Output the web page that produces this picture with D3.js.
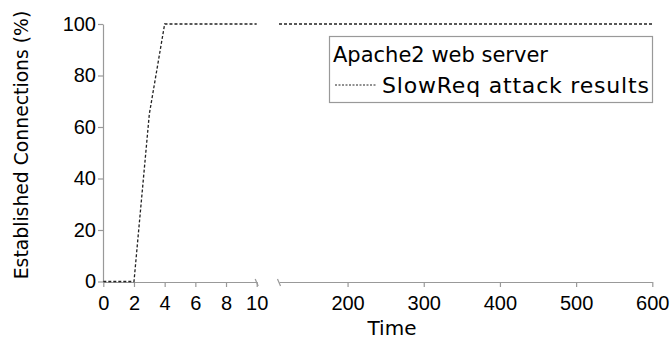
<!DOCTYPE html>
<html>
<head>
<meta charset="utf-8">
<script src="https://cdn.jsdelivr.net/npm/d3@7"></script>
<style>
  body { margin: 0; background: #fff; }
  svg { font-family: "DejaVu Sans", sans-serif; }
  .axis path, .axis line { stroke: #999; stroke-width: 1.2; }
  .axis text { fill: #000; font-size: 20px; }
</style>
</head>
<body>
<div id="chart"></div>
<script>
// left part of the broken time axis (0..10) and right part (~110..600)
const timeLeft = [0, 2, 3, 4, 10];
const connLeft = [0, 0, 65, 100, 100];
const timeRight = [110, 600];
const connRight = [100, 100];
const yTicks = [0, 20, 40, 60, 80, 100];
const xTicksLeft = [0, 2, 4, 6, 8, 10];
const xTicksRight = [200, 300, 400, 500, 600];

const width = 671, height = 339;

const svg = d3.select("#chart").append("svg")
  .attr("width", width)
  .attr("height", height);

const y = d3.scaleLinear().domain([0, 100]).range([281.5, 24]);
const xL = d3.scaleLinear().domain([0, 10]).range([103.3, 256.7]);
const xR = d3.scaleLinear().domain([110, 600]).range([279, 652.3]);

// y axis
svg.append("g")
  .attr("class", "axis")
  .attr("transform", "translate(103,0)")
  .call(d3.axisLeft(y).tickValues(yTicks).tickSize(5).tickSizeOuter(0).tickPadding(2));

// x axis, left segment
svg.append("g")
  .attr("class", "axis")
  .attr("transform", "translate(0,282)")
  .call(d3.axisBottom(xL).tickValues(xTicksLeft).tickSize(5).tickSizeOuter(0).tickPadding(9));

// x axis, right segment
svg.append("g")
  .attr("class", "axis")
  .attr("transform", "translate(0,282)")
  .call(d3.axisBottom(xR).tickValues(xTicksRight).tickSize(5).tickSizeOuter(0).tickPadding(9));

// break marks
[xL(10), xR(110)].forEach(bx => {
  svg.append("line")
    .attr("x1", bx - 1.5).attr("y1", 279)
    .attr("x2", bx + 1.5).attr("y2", 286)
    .attr("stroke", "#999").attr("stroke-width", 1.2);
});

// data lines
const lineL = d3.line().x((d, i) => xL(timeLeft[i])).y(d => y(d));
const lineR = d3.line().x((d, i) => xR(timeRight[i])).y(d => y(d));

svg.append("path")
  .attr("d", lineL(connLeft))
  .attr("fill", "none")
  .attr("stroke", "#222")
  .attr("stroke-width", 1.3)
  .attr("stroke-dasharray", "3,2");

svg.append("path")
  .attr("d", lineR(connRight))
  .attr("fill", "none")
  .attr("stroke", "#222")
  .attr("stroke-width", 1.3)
  .attr("stroke-dasharray", "3,2");

// axis titles
svg.append("text")
  .attr("x", 392).attr("y", 335)
  .attr("text-anchor", "middle")
  .style("font-size", "20px")
  .text("Time");

svg.append("text")
  .attr("transform", "translate(28,145) rotate(-90)")
  .attr("text-anchor", "middle")
  .style("font-size", "18.8px")
  .text("Established Connections (%)");

// legend
const lg = svg.append("g");
lg.append("rect")
  .attr("x", 329.5).attr("y", 36.5)
  .attr("width", 323).attr("height", 66)
  .attr("fill", "#fff")
  .attr("stroke", "#999")
  .attr("stroke-width", 1.2);
lg.append("text")
  .attr("x", 333).attr("y", 62)
  .style("font-size", "21px")
  .text("Apache2 web server");
lg.append("line")
  .attr("x1", 335).attr("x2", 376)
  .attr("y1", 85).attr("y2", 85)
  .attr("stroke", "#222")
  .attr("stroke-width", 1)
  .attr("stroke-dasharray", "2,1.5");
lg.append("text")
  .attr("x", 382).attr("y", 93)
  .style("font-size", "22px")
  .style("letter-spacing", "0.8px")
  .text("SlowReq attack results");
</script>
</body>
</html>
